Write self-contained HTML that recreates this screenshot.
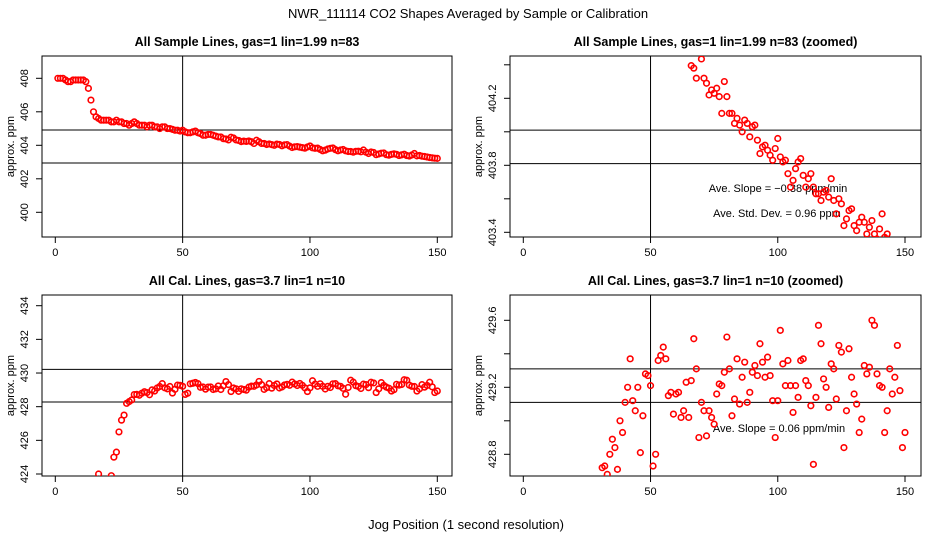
<!DOCTYPE html>
<html><head><meta charset="utf-8"><style>
html,body{margin:0;padding:0;background:#fff;width:936px;height:540px;overflow:hidden;}
svg{display:block;font-family:"Liberation Sans",sans-serif;overflow:hidden;}
</style></head><body>
<svg id="chart" width="936" height="540" xmlns="http://www.w3.org/2000/svg">
<text x="468" y="18" text-anchor="middle" font-size="13">NWR_111114  CO2 Shapes Averaged by Sample or Calibration</text>
<text x="466" y="529" text-anchor="middle" font-size="13">Jog Position (1 second resolution)</text>
</svg>
<script>
// Sample line averages (jog positions 1..150)
const sampleValues = [408.0,408.0,408.0,407.9,407.8,407.8,407.9,407.9,407.9,407.9,
407.9,407.8,407.4,406.7,406.0,405.7,405.6,405.5,405.5,405.5,
405.5,405.4,405.4,405.5,405.4,405.4,405.3,405.3,405.2,405.3,
405.4,405.3,405.2,405.2,405.2,405.1,405.2,405.2,405.1,405.1,
405.0,405.1,405.1,405.0,405.0,404.95,404.9,404.9,404.85,404.9,
404.8,404.75,404.75,404.8,404.85,404.75,404.7,404.6,404.6,404.65,
404.65,404.6,404.55,404.5,404.5,404.395,404.38,404.32,404.48,404.435,
404.32,404.29,404.22,404.25,404.23,404.26,404.21,404.11,404.3,404.21,
404.11,404.11,404.05,404.08,404.04,404.0,404.07,404.05,403.97,404.03,
404.04,403.95,403.87,403.91,403.92,403.89,403.86,403.83,403.9,403.96,
403.85,403.82,403.83,403.75,403.67,403.71,403.78,403.82,403.84,403.74,
403.67,403.72,403.75,403.67,403.63,403.63,403.59,403.64,403.65,403.61,
403.72,403.59,403.51,403.6,403.57,403.44,403.48,403.53,403.54,403.44,
403.41,403.46,403.49,403.46,403.39,403.43,403.47,403.39,403.36,403.42,
403.51,403.37,403.39,403.35,403.33,403.3,403.27,403.25,403.23,403.22];
// Calibration line averages (jog positions 1..150)
const calValues = [423,423,423,423,423,423,423,423,423,423,
423,423,423,423,423,423,424.0,423.4,423.5,423.6,
423.7,423.9,425.0,425.3,426.5,427.2,427.5,428.2,428.3,428.4,
428.72,428.73,428.68,428.8,428.89,428.84,428.71,429.0,428.93,429.11,
429.2,429.37,429.12,429.06,429.2,428.81,429.03,429.28,429.27,429.21,
428.73,428.8,429.36,429.39,429.44,429.37,429.15,429.17,429.04,429.16,
429.17,429.02,429.06,429.23,429.02,429.24,429.49,429.31,428.9,429.11,
429.06,428.91,429.06,429.02,428.98,429.16,429.22,429.21,429.29,429.5,
429.31,429.03,429.13,429.37,429.1,429.26,429.35,429.11,429.17,429.29,
429.33,429.27,429.46,429.35,429.26,429.38,429.27,429.12,428.9,429.12,
429.54,429.34,429.21,429.36,429.21,429.05,429.21,429.14,429.36,429.37,
429.24,429.21,429.09,428.74,429.14,429.57,429.46,429.25,429.2,429.08,
429.34,429.31,429.13,429.45,429.41,428.84,429.06,429.43,429.26,429.16,
429.1,428.93,429.01,429.33,429.28,429.32,429.6,429.57,429.28,429.21,
429.2,428.93,429.06,429.31,429.16,429.26,429.45,429.18,428.84,428.93];
const xTicks = [0,50,100,150];
const tlYTicks = [400,402,404,406,408];
const tlYLabels = ["400","402","404","406","408"];
const trYTicks = [403.4,403.6,403.8,404.0,404.2,404.4];
const trYLabels = ["403.4","","403.8","","404.2",""];
const blYTicks = [424,426,428,430,432,434];
const blYLabels = ["424","426","428","430","432","434"];
const brYTicks = [428.8,429.0,429.2,429.4,429.6];
const brYLabels = ["428.8","","429.2","","429.6"];
const tlHLines = [404.91,402.94];
const trHLines = [404.01,403.81];
const blHLines = [430.22,428.28];
const brHLines = [429.31,429.11];
const vLineX = 50;

const NS = "http://www.w3.org/2000/svg";
const svg = document.getElementById('chart');
function mk(tag, attrs, parent){const e=document.createElementNS(NS,tag);for(const k in attrs)e.setAttribute(k,attrs[k]);(parent||svg).appendChild(e);return e;}

function panel(cfg){
  const g = mk('g',{});
  
  
  const xs = v => cfg.x0 + (v - 0) * (cfg.x150 - cfg.x0) / 150;
  const ys = v => cfg.yRefPx - (v - cfg.yRef) * cfg.pxPerUnit;
  const cid = 'clip-' + cfg.name;
  const cp = mk('clipPath',{id:cid},g);
  mk('rect',{x:cfg.L,y:cfg.T,width:cfg.R-cfg.L,height:cfg.B-cfg.T},cp);
  const t = mk('text',{x:(cfg.L+cfg.R)/2,y:cfg.T-10,'text-anchor':'middle','font-size':12.5,'font-weight':'bold'},g);
  t.textContent = cfg.title;
  
  
  const fr = mk('rect',{x:cfg.L,y:cfg.T,width:cfg.R-cfg.L,height:cfg.B-cfg.T,fill:'none',stroke:'#000','stroke-width':1},g);
  
  
  xTicks.forEach(v=>{
    const x = xs(v);
    const tk = mk('line',{x1:x,x2:x,y1:cfg.B,y2:cfg.B+6,stroke:'#000'},g);
    
    
    const lb = mk('text',{x:x,y:cfg.B+19,'text-anchor':'middle','font-size':11},g);
    lb.textContent = String(v);
    
    
  });
  mk('line',{x1:xs(0),x2:xs(150),y1:cfg.B,y2:cfg.B,stroke:'#000'},g);
  cfg.yTicks.forEach((v,i)=>{
    const y = ys(v);
    const tk = mk('line',{x1:cfg.L-6,x2:cfg.L,y1:y,y2:y,stroke:'#000'},g);
    
    
    if(cfg.yLabels[i]){
      const lb = mk('text',{x:0,y:0,'text-anchor':'middle','font-size':11,transform:`translate(${cfg.L-14},${y}) rotate(-90)`},g);
      lb.textContent = cfg.yLabels[i];
      
      
    }
  });
  const yl = mk('text',{x:0,y:0,'text-anchor':'middle','font-size':11,transform:`translate(${cfg.L-28},${(cfg.T+cfg.B)/2}) rotate(-90)`},g);
  yl.textContent = 'approx. ppm';
  
  
  const vx = xs(vLineX);
  const vl = mk('line',{x1:vx,x2:vx,y1:cfg.T,y2:cfg.B,stroke:'#000'},g);
  
  
  cfg.hLines.forEach(v=>{
    const hl = mk('line',{x1:cfg.L,x2:cfg.R,y1:ys(v),y2:ys(v),stroke:'#000'},g);
    
    
  });
  (cfg.notes||[]).forEach(n=>{
    const a = mk('text',{x:n.x,y:n.y,'text-anchor':'middle','font-size':11},g);
    a.textContent = n.text;
    
    
  });
  const pg = mk('g',{'clip-path':`url(#${cid})`},g);
  cfg.data.forEach((v,i)=>{
    const cy = ys(v);
    if (cy < cfg.T - 5 || cy > cfg.B + 5) return;
    const c = mk('circle',{cx:xs(i+1),cy:cy,r:2.8,fill:'none',stroke:'#ff0000','stroke-width':1.6},pg);
    
    
  });
}

panel({name:'sample-panel',title:'All Sample Lines, gas=1 lin=1.99 n=83',L:42,R:452,T:56,B:237,x0:55.3,x150:437.3,
  yRef:408,yRefPx:78.3,pxPerUnit:16.75,yTicks:tlYTicks,yLabels:tlYLabels,hLines:tlHLines,data:sampleValues});
panel({name:'sample-zoomed-panel',title:'All Sample Lines, gas=1 lin=1.99 n=83 (zoomed)',L:510,R:921,T:56,B:237,x0:523.3,x150:905,
  yRef:404.2,yRefPx:98.3,pxPerUnit:167.5,yTicks:trYTicks,yLabels:trYLabels,hLines:trHLines,data:sampleValues,
  notes:[{x:778,y:192,text:'Ave. Slope =  \u22120.38  ppm/min'},{x:777,y:217,text:'Ave. Std. Dev. =  0.96  ppm'}]});
panel({name:'cal-panel',title:'All Cal. Lines, gas=3.7 lin=1 n=10',L:42,R:452,T:295,B:476,x0:55.3,x150:437.3,
  yRef:434,yRefPx:305.7,pxPerUnit:16.83,yTicks:blYTicks,yLabels:blYLabels,hLines:blHLines,data:calValues});
panel({name:'cal-zoomed-panel',title:'All Cal. Lines, gas=3.7 lin=1 n=10 (zoomed)',L:510,R:921,T:295,B:476,x0:523.3,x150:905,
  yRef:429.6,yRefPx:320.3,pxPerUnit:167.5,yTicks:brYTicks,yLabels:brYLabels,hLines:brHLines,data:calValues,
  notes:[{x:779,y:432,text:'Ave. Slope =  0.06  ppm/min'}]});
</script>
</body></html>
